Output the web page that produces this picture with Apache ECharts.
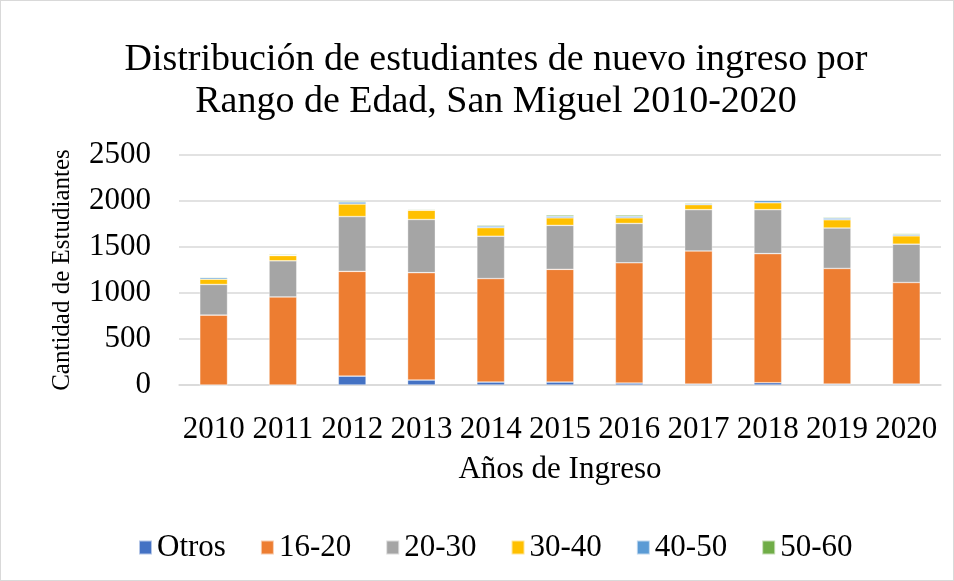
<!DOCTYPE html>
<html>
<head>
<meta charset="utf-8">
<script src="https://cdn.jsdelivr.net/npm/echarts@6/dist/echarts.min.js"></script>
<style>
    html, body { margin: 0; padding: 0; background: #fff; }
    #chart { width: 952px; height: 579px; border: 1px solid #d9d9d9; }
</style>
</head>
<body>
<div id="chart"></div>
<script>
// 年份
let years = ['2010', '2011', '2012', '2013', '2014', '2015', '2016', '2017', '2018', '2019', '2020'];
// 各年龄段人数
let otros = [0, 0, 96, 54, 32, 32, 21, 10, 25, 10, 10];
let r16_20 = [760, 957, 1139, 1167, 1125, 1225, 1307, 1447, 1403, 1257, 1104];
let r20_30 = [333, 393, 596, 578, 460, 478, 428, 449, 478, 439, 417];
let r30_40 = [57, 57, 136, 100, 93, 82, 61, 54, 75, 90, 90];
let r40_50 = [17, 5, 22, 7, 18, 18, 18, 11, 25, 18, 14];
let r50_60 = [8, 10, 11, 8, 11, 14, 14, 10, 4, 10, 11];

let seriesNames = ['Otros', '16-20', '20-30', '30-40', '40-50', '50-60'];
let seriesData = [otros, r16_20, r20_30, r30_40, r40_50, r50_60];
let colors = ['#4472C4', '#ED7D31', '#A5A5A5', '#FFC000', '#5B9BD5', '#70AD47'];

let font = '"Liberation Serif", "Times New Roman", serif';

let series = [];
for (let i = 0; i < seriesNames.length; i++) {
    series.push({
        name: seriesNames[i],
        type: 'bar',
        stack: 'total',
        barWidth: '40%',
        data: seriesData[i],
        itemStyle: {
            color: colors[i],
            borderColor: 'rgba(255,255,255,0.6)',
            borderWidth: 0.6
        }
    });
}

let option = {
    animation: false,
    textStyle: { fontFamily: font },
    title: {
        left: 490,
        textAlign: 'center',
        top: 33,
        text: 'Distribución de estudiantes de nuevo ingreso por\nRango de Edad, San Miguel 2010-2020',
        textStyle: {
            fontFamily: font,
            fontSize: 38,
            fontWeight: 'normal',
            color: '#000',
            lineHeight: 42
        }
    },
    legend: {
        bottom: 12,
        left: 132,
        itemWidth: 13,
        itemHeight: 14,
        itemGap: 34,
        icon: 'rect',
        textStyle: { fontFamily: font, fontSize: 31, color: '#000' },
        data: seriesNames
    },
    grid: {
        left: 178,
        right: 12,
        top: 154,
        bottom: 195
    },
    xAxis: {
        type: 'category',
        data: years,
        name: 'Años de Ingreso',
        nameLocation: 'middle',
        nameGap: 69,
        nameTextStyle: { fontFamily: font, fontSize: 31, color: '#000' },
        axisLine: { lineStyle: { color: '#d9d9d9', width: 1.5 } },
        axisTick: { show: false },
        axisLabel: { fontFamily: font, fontSize: 31, color: '#000', margin: 29, interval: 0 }
    },
    yAxis: {
        type: 'value',
        min: 0,
        max: 2500,
        interval: 500,
        name: 'Cantidad de Estudiantes',
        nameLocation: 'middle',
        nameGap: 104,
        nameTextStyle: { fontFamily: font, fontSize: 25, color: '#000' },
        axisLine: { show: false },
        axisTick: { show: false },
        axisLabel: {
            fontFamily: font,
            fontSize: 31,
            color: '#000',
            margin: 28,
            formatter: function (v) { return String(v); }
        },
        splitLine: { lineStyle: { color: '#d9d9d9', width: 1.5 } }
    },
    series: series
};

let myChart = echarts.init(document.getElementById('chart'));
myChart.setOption(option);
</script>
</body>
</html>
